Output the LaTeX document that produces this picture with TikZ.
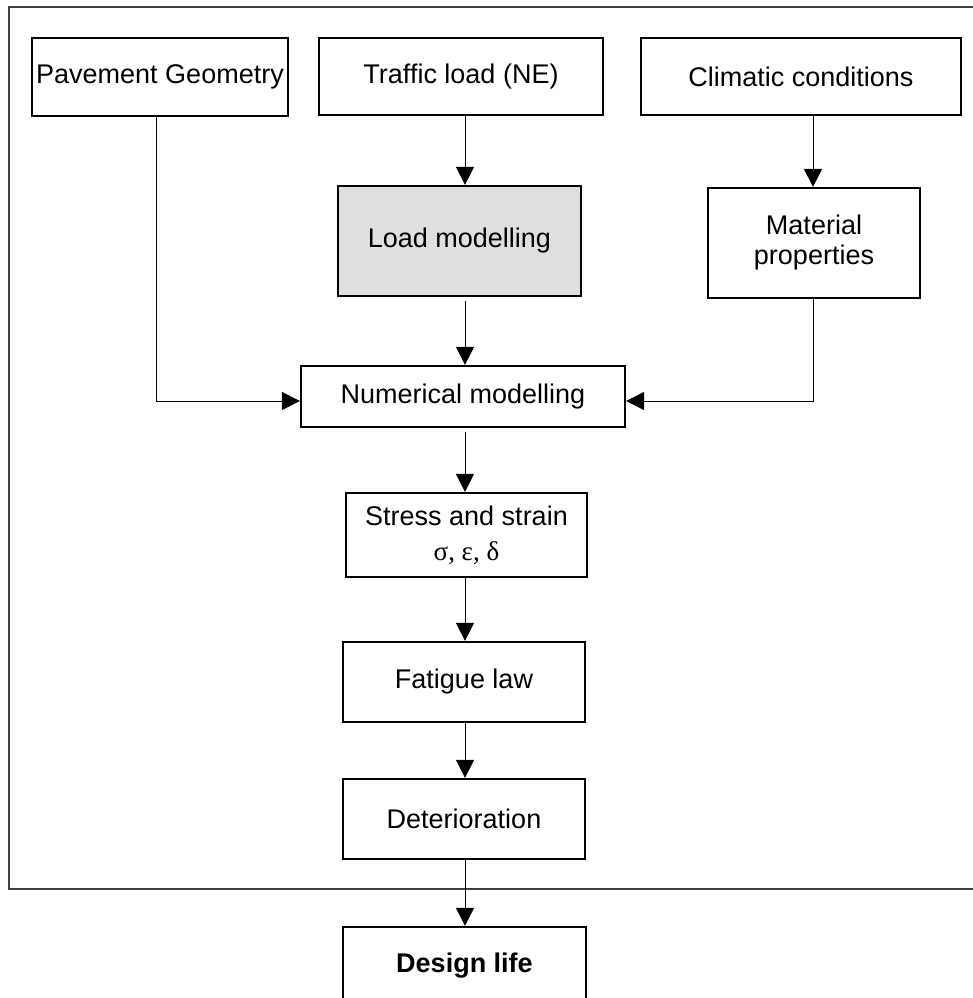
\documentclass[tikz,border=0pt]{standalone}
\usepackage{fontspec}
\setmainfont{Liberation Sans}
\newfontfamily\greekfont{Liberation Serif}
\usetikzlibrary{arrows.meta}
\definecolor{boxgray}{RGB}{223,223,223}
\definecolor{framegray}{RGB}{64,64,64}
\begin{document}
\begin{tikzpicture}[x=1pt,y=-1pt,
  box/.style={draw, line width=2.2pt, inner sep=0pt, align=center,
    font=\fontsize{27}{30}\selectfont},
  conn/.style={line width=1pt, -{Triangle[length=18pt,width=18pt]}}
]
\useasboundingbox (0,0) rectangle (973,998);
% outer frame (right side lies beyond the picture)
\draw[line width=1.3pt, framegray] (973,7) -| (9,889) -- (973,889);

% nodes
\node[box, minimum width=256pt, minimum height=78pt] (PG) at (160,77) {Pavement Geometry};
\node[box, minimum width=284pt, minimum height=77pt] (TL) at (461,76.5) {Traffic load (NE)};
\node[box, minimum width=320pt, minimum height=77pt] (CC) at (801,76.5) {Climatic conditions};
\node[box, fill=boxgray, minimum width=243pt, minimum height=110pt] (LM) at (459.5,241) {Load modelling};
\node[box, minimum width=212pt, minimum height=110pt] (MP) at (814,243) {Material\\properties};
\node[box, minimum width=324pt, minimum height=61pt] (NM) at (463,396.5) {Numerical modelling};
\node[box, minimum width=241pt, minimum height=84pt] (SS) at (466.5,535) {Stress and strain\\[5pt]{\greekfont σ, ε, δ}};
\node[box, minimum width=242pt, minimum height=80pt] (FL) at (464,682) {Fatigue law};
\node[box, minimum width=242pt, minimum height=80pt] (DT) at (464,819) {Deterioration};
\node[box, minimum width=243pt, minimum height=78pt, font=\fontsize{27}{30}\selectfont\bfseries] (DL) at (464.5,966) {Design life};

% column positions for connectors
\coordinate (xL) at (156,0);
\coordinate (xC) at (465,0);
\coordinate (xR) at (813,0);

% connectors
\draw[conn] (TL.south -| xC) -- (LM.north -| xC);
\draw[conn] (CC.south -| xR) -- (MP.north -| xR);
\draw[conn] (PG.south -| xL) |- ([yshift=-4.5pt]NM.west);
\draw[conn] (MP.south -| xR) |- ([yshift=-4.5pt]NM.east);
\draw[conn, shorten <=4pt] (LM.south -| xC) -- (NM.north -| xC);
\draw[conn, shorten <=4pt] (NM.south -| xC) -- (SS.north -| xC);
\draw[conn] (SS.south -| xC) -- (FL.north -| xC);
\draw[conn] (FL.south -| xC) -- (DT.north -| xC);
\draw[conn] (DT.south -| xC) -- (DL.north -| xC);
\end{tikzpicture}
\end{document}
